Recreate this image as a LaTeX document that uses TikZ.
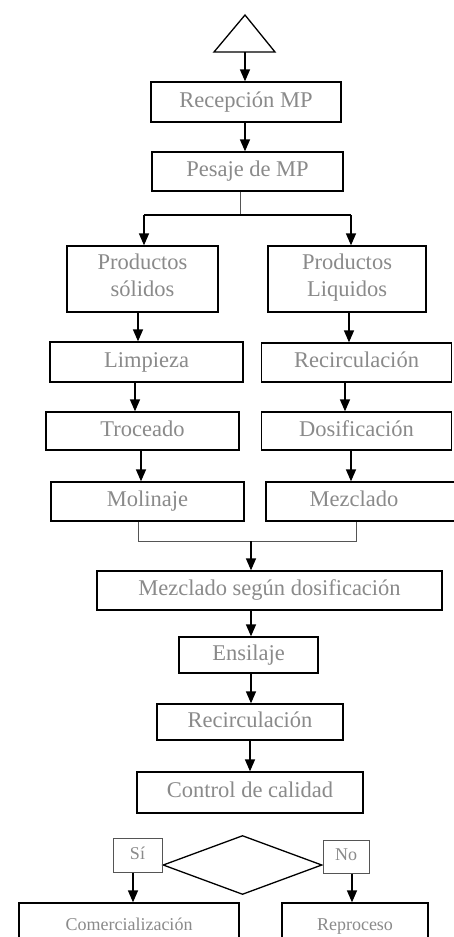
\documentclass[tikz,border=0pt]{standalone}
\usepackage{fontspec}
\setmainfont{Liberation Serif}
\usetikzlibrary{arrows.meta,shapes.geometric}
\definecolor{txtgray}{HTML}{8A8A8A}
\definecolor{linegray}{HTML}{555555}
\tikzset{
  box/.style={draw=black, line width=1.3pt, inner sep=0pt, text=txtgray, align=center,
    font=\fontsize{22.5}{27}\selectfont, execute at begin node=\strut},
  smallbox/.style={box, draw=linegray, line width=1pt, font=\fontsize{18}{22}\selectfont},
  endbox/.style={box, font=\fontsize{18}{22}\selectfont},
  arr/.style={line width=1.5pt, -{Triangle[width=10pt,length=12pt]}},
  thinline/.style={line width=1pt, draw=linegray}
}
\begin{document}
\begin{tikzpicture}[x=1pt,y=-1pt]
\useasboundingbox[fill=white] (0,0) rectangle (453,937);
% start triangle
\draw[line width=1.3pt] (245,15) -- (275,52) -- (214,52) -- cycle;
\coordinate (tb) at (245,52);
% boxes
\node[box, minimum width=190pt, minimum height=40pt] (rec) at (246,102) {Recepción MP};
\node[box, minimum width=191pt, minimum height=39pt] (pes) at (247.5,171.5) {Pesaje de MP};
\node[box, minimum width=151pt, minimum height=66pt] (sol) at (142.5,279) {Productos\\\strut sólidos};
\node[box, minimum width=158pt, minimum height=66pt] (liq) at (347,279) {Productos\\\strut Liquidos};
\node[box, minimum width=193pt, minimum height=40pt] (lim) at (146.5,362) {Limpieza};
\node[box, minimum width=190pt, minimum height=39pt] (rec2) at (356.5,362.5) {Recirculación};
\node[box, minimum width=193pt, minimum height=38pt] (tro) at (142.5,431) {Troceado};
\node[box, minimum width=190pt, minimum height=38pt] (dos) at (356.5,431) {Dosificación};
\node[box, minimum width=193pt, minimum height=39pt] (mol) at (147.5,501.5) {Molinaje};
\node[box, minimum width=196pt, minimum height=39pt] (mez) at (364,501.5) {\makebox[0pt]{Mezclado}\hspace*{20pt}};
\node[box, minimum width=345pt, minimum height=39pt] (msd) at (269.5,590.5) {Mezclado según dosificación};
\node[box, minimum width=139pt, minimum height=36pt] (ens) at (248.5,655) {Ensilaje};
\node[box, minimum width=186pt, minimum height=36pt] (rec3) at (250,722) {Recirculación};
\node[box, minimum width=226pt, minimum height=41pt] (ctrl) at (250,792.5) {Control de calidad};
\node[diamond, draw=black, line width=1.3pt, inner sep=0pt, minimum width=159pt, minimum height=59pt] (dec) at (242.5,865) {};
\node[smallbox, minimum width=49pt, minimum height=34pt] (si) at (137.5,855) {Sí};
\node[smallbox, minimum width=46pt, minimum height=33pt] (no) at (346,856.5) {No};
\node[endbox, minimum width=220pt, minimum height=47pt] (com) at (129,926.5) {Comercialización};
\node[endbox, minimum width=146pt, minimum height=47pt] (rep) at (355,926.5) {Reproceso};
% connectors
\draw[arr] (tb) -- (tb |- rec.north);
\draw[arr] ([xshift=-1pt]rec.south) -- ([xshift=-2.5pt]pes.north);
\coordinate (br) at (240,215);
\coordinate (brl) at (144,215);
\coordinate (brr) at (351,215);
\draw[thinline] ([xshift=-7.5pt]pes.south) -- (br);
\draw[line width=1.2pt] (brl) -- (brr);
\draw[arr] (brl) -- (brl |- sol.north);
\draw[arr] (brr) -- (brr |- liq.north);
\draw[arr] ([xshift=-4.5pt]sol.south) -- ([xshift=-8.5pt]lim.north);
\draw[arr] ([xshift=2pt]liq.south) -- ([xshift=-7.5pt]rec2.north);
\draw[arr] ([xshift=-11.5pt]lim.south) -- ([xshift=-7.5pt]tro.north);
\draw[arr] ([xshift=-11.5pt]rec2.south) -- ([xshift=-11.5pt]dos.north);
\draw[arr] ([xshift=-1.5pt]tro.south) -- ([xshift=-6.5pt]mol.north);
\draw[arr] ([xshift=-5.5pt]dos.south) -- ([xshift=-13pt]mez.north);
\coordinate (jl) at (138,541);
\coordinate (jr) at (356,541);
\coordinate (jm) at (251,541);
\draw[thinline] ([xshift=-9.5pt]mol.south) -- (jl) -- (jr) -- ([xshift=-8pt]mez.south);
\draw[arr] (jm) -- (jm |- msd.north);
\draw[arr] ([xshift=-18.5pt]msd.south) -- ([xshift=2.5pt]ens.north);
\draw[arr] ([xshift=2.5pt]ens.south) -- ([xshift=1pt]rec3.north);
\draw[arr] (rec3.south) -- (ctrl.north);
\draw[arr] ([xshift=-4.5pt]si.south) -- ([xshift=4pt]com.north);
\draw[arr] ([xshift=6pt]no.south) -- ([xshift=-3pt]rep.north);
\end{tikzpicture}
\end{document}
